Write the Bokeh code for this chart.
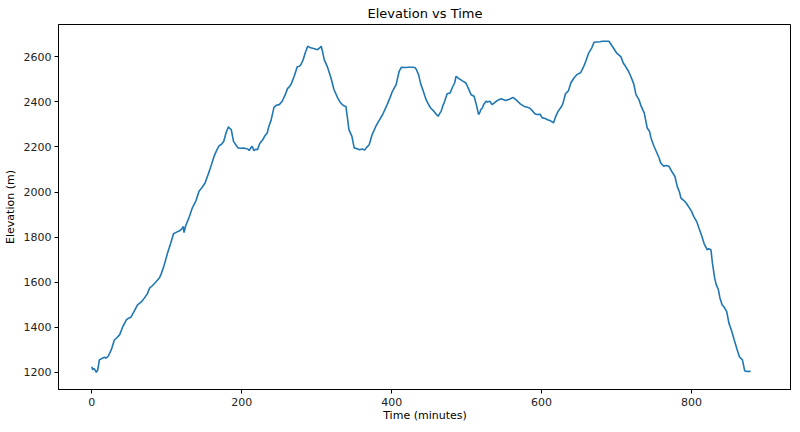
from bokeh.plotting import figure
from bokeh.models import Range1d, FixedTicker
from bokeh.embed import file_html
from bokeh.resources import INLINE

time_min = [0, 1, 3, 6, 8, 10, 14, 17, 19, 22, 26, 30, 33, 37, 41, 46, 49, 52, 56, 61, 66, 70,
            74, 77, 81, 86, 90, 92, 96, 101, 105, 109, 113, 117, 120, 122, 123, 125, 130, 134,
            139, 143, 147, 151, 157, 163, 167, 170, 173, 176, 179, 182, 184, 186, 189, 192, 195,
            199, 203, 206, 208, 210, 212, 214, 216, 219, 221, 224, 228, 231, 234, 236, 239, 243,
            246, 250, 254, 258, 261, 264, 266, 270, 274, 277, 279, 282, 285, 288, 292, 297, 301,
            304, 306, 308, 310, 314, 319, 323, 328, 331, 334, 337, 339, 341, 343, 347, 350, 354,
            357, 361, 364, 366, 370, 374, 379, 383, 388, 394, 398, 401, 406, 410, 413, 418, 423,
            428, 431, 433, 436, 439, 442, 446, 449, 452, 456, 459, 462, 464, 466, 468, 471, 474,
            478, 481, 484, 486, 489, 492, 495, 499, 502, 506, 510, 513, 516, 518, 519, 521, 523,
            526, 528, 531, 534, 537, 540, 543, 546, 548, 552, 557, 562, 568, 572, 577, 581, 584,
            588, 591, 594, 598, 601, 605, 608, 612, 616, 619, 622, 625, 628, 632, 636, 639, 643,
            647, 652, 656, 659, 663, 667, 670, 674, 678, 681, 690, 700, 706, 709, 712, 716, 719,
            723, 726, 730, 733, 737, 741, 744, 746, 750, 754, 757, 759, 763, 766, 770, 774, 778,
            781, 784, 786, 790, 793, 796, 800, 803, 807, 810, 814, 817, 821, 823, 826, 828, 831,
            833, 836, 838, 841, 843, 847, 850, 854, 857, 861, 864, 868, 871, 874, 877, 879, 881,
            883, 885, 887, 889]
elevation_m = [1224, 1212, 1216, 1200, 1212, 1255, 1262, 1267, 1262, 1272, 1300, 1343, 1352, 1366,
               1400, 1432, 1440, 1444, 1468, 1499, 1512, 1529, 1548, 1573, 1585, 1603, 1618, 1632,
               1670, 1729, 1770, 1815, 1822, 1828, 1836, 1847, 1820, 1848, 1890, 1929, 1962, 2003,
               2020, 2040, 2095, 2158, 2188, 2206, 2212, 2225, 2262, 2289, 2283, 2277, 2225, 2210,
               2196, 2194, 2195, 2192, 2191, 2184, 2196, 2203, 2184, 2190, 2188, 2215, 2232, 2250,
               2262, 2290, 2317, 2376, 2385, 2388, 2403, 2432, 2459, 2469, 2480, 2514, 2556, 2558,
               2566, 2588, 2620, 2647, 2640, 2636, 2632, 2640, 2647, 2620, 2588, 2558, 2507, 2455,
               2418, 2400, 2388, 2382, 2380, 2329, 2277, 2247, 2196, 2192, 2188, 2191, 2186, 2196,
               2210, 2255, 2292, 2316, 2344, 2388, 2420, 2447, 2477, 2536, 2554, 2553, 2554, 2554,
               2553, 2544, 2520, 2477, 2450, 2410, 2390, 2373, 2360, 2347, 2336, 2348, 2358, 2380,
               2405, 2436, 2440, 2464, 2484, 2514, 2505, 2499, 2492, 2484, 2462, 2432, 2425, 2388,
               2344, 2356, 2366, 2373, 2390, 2403, 2400, 2403, 2388, 2396, 2404, 2410, 2414, 2412,
               2406, 2412, 2420, 2403, 2390, 2380, 2376, 2373, 2360, 2347, 2344, 2345, 2329, 2326,
               2321, 2316, 2307, 2336, 2358, 2372, 2388, 2436, 2450, 2484, 2505, 2521, 2529, 2555,
               2580, 2618, 2640, 2665, 2666, 2667, 2669, 2669, 2618, 2600, 2573, 2558, 2536, 2514,
               2480, 2432, 2410, 2380, 2351, 2284, 2270, 2240, 2203, 2173, 2150, 2129, 2114, 2118,
               2114, 2090, 2069, 2025, 2000, 1973, 1962, 1951, 1936, 1915, 1892, 1869, 1840, 1803,
               1770, 1744, 1748, 1744, 1684, 1618, 1590, 1566, 1530, 1499, 1492, 1470, 1418, 1380,
               1344, 1300, 1269, 1255, 1207, 1203, 1204, 1203]

x_ticks = [0, 200, 400, 600, 800]
y_ticks = [1200, 1400, 1600, 1800, 2000, 2200, 2400, 2600]

FONT = "DejaVu Sans"

p = figure(frame_width=733, frame_height=365, output_backend="svg", toolbar_location=None,
           title="Elevation vs Time",
           x_range=Range1d(-44.5, 933.5), y_range=Range1d(1123.4, 2743.6),
           min_border=0, min_border_left=51, min_border_right=0, min_border_top=17,
           min_border_bottom=34)

p.line(time_min, elevation_m, line_color="#1f77b4", line_width=1.6)

p.title.align = "center"
p.title.text_font = FONT
p.title.text_font_size = "13px"
p.title.text_font_style = "normal"
p.title.text_color = "black"
p.title.standoff = 7
p.title.offset = 0

p.xgrid.visible = False
p.ygrid.visible = False
p.outline_line_color = "black"
p.outline_line_alpha = 1.0
p.outline_line_width = 1

p.xaxis.ticker = FixedTicker(ticks=x_ticks)
p.yaxis.ticker = FixedTicker(ticks=y_ticks)
p.xaxis.axis_label = "Time (minutes)"
p.yaxis.axis_label = "Elevation (m)"

for ax in (p.xaxis[0], p.yaxis[0]):
    ax.axis_label_text_font = FONT
    ax.axis_label_text_font_size = "11px"
    ax.axis_label_text_font_style = "normal"
    ax.axis_label_text_color = "black"
    ax.major_label_text_font = FONT
    ax.major_label_text_font_size = "11px"
    ax.major_label_text_color = "#222222"
    ax.minor_tick_line_color = None
    ax.major_tick_in = 0
    ax.major_tick_out = 4
    ax.major_tick_line_color = "black"
    ax.axis_line_color = "black"

p.xaxis[0].major_label_standoff = 4
p.xaxis[0].axis_label_standoff = 0
p.yaxis[0].major_label_standoff = 3
p.yaxis[0].axis_label_standoff = 4

open("out.html", "w").write(file_html(p, INLINE))
